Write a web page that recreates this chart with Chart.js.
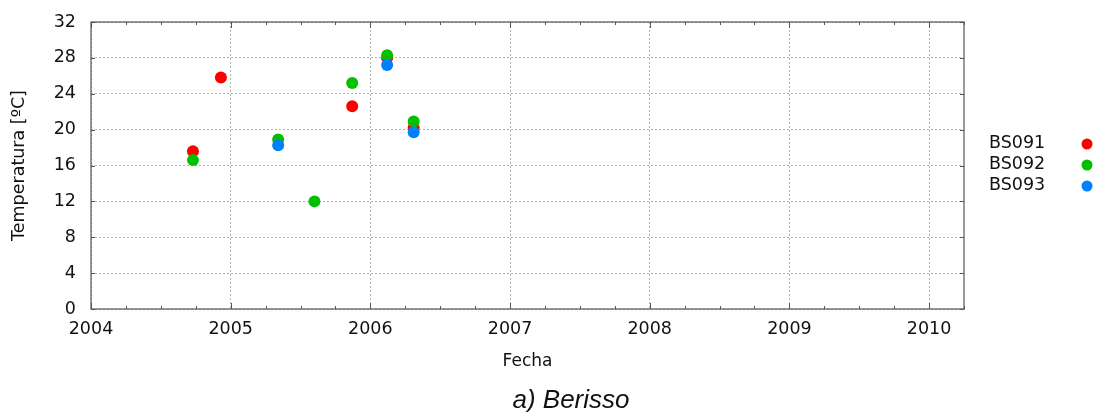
<!DOCTYPE html>
<html>
<head>
<meta charset="utf-8">
<style>
  html, body { margin: 0; padding: 0; background: #fff; }
  #wrap { width: 1099px; height: 412px; }
</style>
<script src="https://cdn.jsdelivr.net/npm/chart.js"></script>
</head>
<body>
<div id="wrap"><canvas id="tempChart" width="1099" height="412"></canvas></div>
<script>
// fechas en años decimales, temperaturas en ºC
const seriesNames = ['BS091', 'BS092', 'BS093'];
const seriesColors = ['#ff0000', '#00c000', '#0080ff'];

const bs091Fechas = [2004.73, 2004.93, 2005.87, 2006.12, 2006.31];
const bs091Temp = [17.6, 25.8, 22.6, 28.0, 20.2];

const bs092Fechas = [2004.73, 2005.34, 2005.60, 2005.87, 2006.12, 2006.31];
const bs092Temp = [16.6, 18.9, 12.0, 25.2, 28.3, 20.9];

const bs093Fechas = [2005.34, 2006.12, 2006.31];
const bs093Temp = [18.25, 27.2, 19.7];

const yearMin = 2004, yearMax = 2010.25;
const tempMin = 0, tempMax = 32, tempStep = 4;

const caption = 'a) Berisso';

function toPoints(xs, ys) {
  return xs.map((x, i) => ({ x: x, y: ys[i] }));
}

const allFechas = [bs091Fechas, bs092Fechas, bs093Fechas];
const allTemps = [bs091Temp, bs092Temp, bs093Temp];

const datasets = seriesNames.map((name, i) => ({
  label: name,
  data: toPoints(allFechas[i], allTemps[i]),
  backgroundColor: seriesColors[i],
  borderColor: seriesColors[i],
  borderWidth: 0,
  pointRadius: 6,
  pointHoverRadius: 6,
  order: seriesNames.length - i
}));

Chart.defaults.font.family = '"DejaVu Sans", sans-serif';
Chart.defaults.color = '#111';

// marco, marcas interiores, leyenda y pie de figura
const framePlugin = {
  id: 'frame',
  afterDraw(chart) {
    const ctx = chart.ctx;
    const a = chart.chartArea;
    const xs = chart.scales.x, ys = chart.scales.y;
    ctx.save();
    ctx.strokeStyle = '#555';
    ctx.lineWidth = 1.2;
    ctx.strokeRect(a.left, a.top, a.right - a.left, a.bottom - a.top);

    ctx.lineWidth = 1;
    ctx.beginPath();
    for (let q = yearMin; q <= yearMax + 1e-6; q += 0.25) {
      const px = Math.round(xs.getPixelForValue(q)) + 0.5;
      const len = Math.abs(q - Math.round(q)) < 1e-6 ? 6 : 3;
      ctx.moveTo(px, a.bottom); ctx.lineTo(px, a.bottom - len);
      ctx.moveTo(px, a.top); ctx.lineTo(px, a.top + len);
    }
    for (let t = tempMin; t <= tempMax; t += tempStep) {
      const py = Math.round(ys.getPixelForValue(t)) + 0.5;
      ctx.moveTo(a.left, py); ctx.lineTo(a.left + 4, py);
      ctx.moveTo(a.right, py); ctx.lineTo(a.right - 4, py);
    }
    ctx.stroke();

    // leyenda: texto a la izquierda, punto a la derecha
    ctx.font = '17.5px "DejaVu Sans"';
    ctx.textBaseline = 'middle';
    ctx.textAlign = 'left';
    chart.data.datasets.forEach((ds, i) => {
      const y = 143 + i * 21;
      ctx.fillStyle = '#111';
      ctx.fillText(ds.label, 989, y);
      ctx.fillStyle = ds.backgroundColor;
      ctx.beginPath();
      ctx.arc(1087, y + 1, 5.5, 0, Math.PI * 2);
      ctx.fill();
    });

    ctx.font = 'italic 26px "Liberation Sans", Arial, sans-serif';
    ctx.textAlign = 'center';
    ctx.fillStyle = '#111';
    ctx.fillText(caption, 571, 401);
    ctx.restore();
  }
};

new Chart(document.getElementById('tempChart'), {
  type: 'scatter',
  data: { datasets: datasets },
  options: {
    responsive: false,
    animation: false,
    layout: { padding: { top: 22, right: 135, left: 0, bottom: 0 } },
    plugins: {
      legend: { display: false },
      tooltip: { enabled: false }
    },
    scales: {
      x: {
        type: 'linear',
        min: yearMin,
        max: yearMax,
        afterFit(scale) {
          scale.height = 103;
          scale.paddingLeft = 0;
          scale.paddingRight = 0;
        },
        ticks: {
          stepSize: 1,
          includeBounds: false,
          padding: 10,
          color: '#111',
          font: { size: 17.5 },
          maxRotation: 0,
          callback: v => String(v)
        },
        grid: { color: '#b4b4b4', lineWidth: 1, drawTicks: false },
        border: { display: false, dash: [2, 2] },
        title: {
          display: true,
          text: 'Fecha',
          color: '#111',
          font: { size: 17 },
          padding: { top: 0, bottom: 40 }
        }
      },
      y: {
        min: tempMin,
        max: tempMax,
        afterFit(scale) {
          scale.width = 91;
          scale.paddingTop = 0;
          scale.paddingBottom = 0;
        },
        ticks: {
          stepSize: tempStep,
          padding: 15,
          color: '#111',
          font: { size: 17.5 }
        },
        grid: { color: '#b4b4b4', lineWidth: 1, drawTicks: false },
        border: { display: false, dash: [2, 2] },
        title: {
          display: true,
          text: 'Temperatura [ºC]',
          color: '#111',
          font: { size: 17.5 },
          padding: { top: 9, bottom: 0 }
        }
      }
    }
  },
  plugins: [framePlugin]
});
</script>
</body>
</html>
